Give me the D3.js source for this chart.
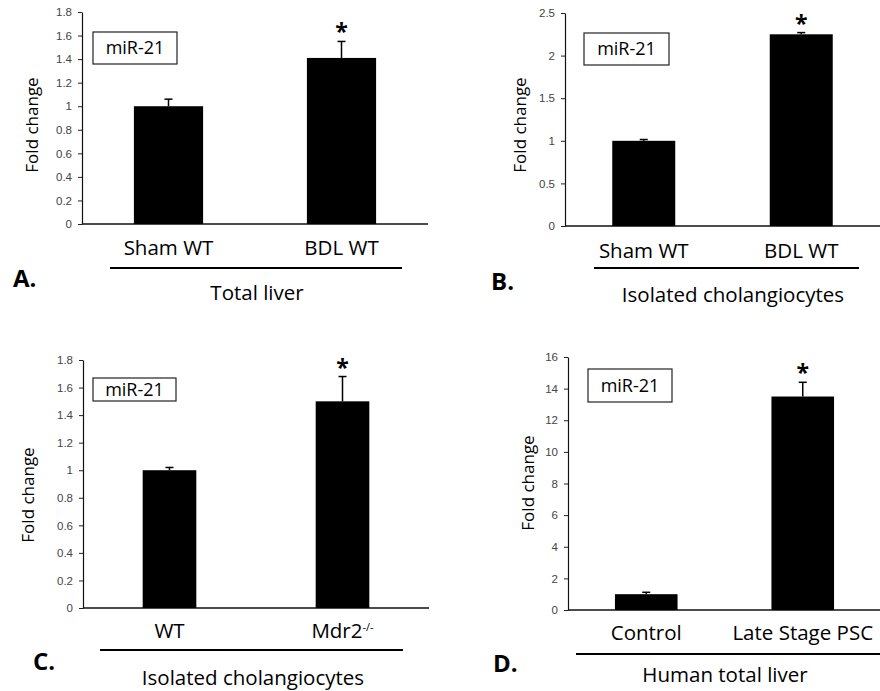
<!DOCTYPE html>
<html>
<head>
<meta charset="utf-8">
<script src="https://cdn.jsdelivr.net/npm/d3@7"></script>
<style>
  body { margin: 0; background: #fff; }
  svg { font-family: "Open Sans", Lato, sans-serif; }
</style>
</head>
<body>
<div id="chart"></div>
<script>
// Données
const catsA = ["Sham WT", "BDL WT"];
const valsA = [1.0, 1.41];
const errsA = [0.06, 0.14];
const ticksA = [0, 0.2, 0.4, 0.6, 0.8, 1, 1.2, 1.4, 1.6, 1.8];

const catsB = ["Sham WT", "BDL WT"];
const valsB = [1.0, 2.25];
const errsB = [0.015, 0.02];
const ticksB = [0, 0.5, 1, 1.5, 2, 2.5];

const catsC = ["WT", "Mdr2"];
const valsC = [1.0, 1.5];
const errsC = [0.02, 0.18];
const ticksC = [0, 0.2, 0.4, 0.6, 0.8, 1, 1.2, 1.4, 1.6, 1.8];

const catsD = ["Control", "Late Stage PSC"];
const valsD = [1.0, 13.5];
const errsD = [0.12, 0.9];
const ticksD = [0, 2, 4, 6, 8, 10, 12, 14, 16];

const groups = ["Total liver", "Isolated cholangiocytes", "Isolated cholangiocytes", "Human total liver"];
const letters = ["A.", "B.", "C.", "D."];
const starred = [1, 1, 1, 1]; // index de la barre avec l'astérisque

const svg = d3.select("#chart").append("svg")
    .attr("width", 880)
    .attr("height", 691);

// Mise en page de chaque panneau
const panels = [
  { cats: catsA, vals: valsA, errs: errsA, ticks: ticksA,
    x0: 82, x1: 428, y0: 224, y1: 12, pin: 0.6, box: [93, 32, 84, 32],
    catY: 255, line: [110, 402, 268], letter: [13, 287], group: [257, 300], ylab: [32, 125] },
  { cats: catsB, vals: valsB, errs: errsB, ticks: ticksB,
    x0: 565, x1: 880, y0: 226, y1: 13, pin: 0.6, box: [584, 33, 85, 32],
    catY: 258, line: [594, 859, 268], letter: [491, 290], group: [733, 302], ylab: [520, 125] },
  { cats: catsC, vals: valsC, errs: errsC, ticks: ticksC,
    x0: 83, x1: 429, y0: 608, y1: 360, pin: 0.69, box: [93, 378, 83, 23],
    catY: 638, line: [100, 403, 650], letter: [33, 670], group: [253, 685], ylab: [28, 495] },
  { cats: catsD, vals: valsD, errs: errsD, ticks: ticksD,
    x0: 568, x1: 881, y0: 610, y1: 357, pin: 0.6, box: [588, 369, 84, 33],
    catY: 640, line: [576, 880, 654], letter: [493, 672], group: [725, 682], ylab: [528, 483] }
];

panels.forEach(function(p, i) {
    const g = svg.append("g");

    const x = d3.scaleBand()
        .domain(p.cats)
        .range([p.x0, p.x1])
        .paddingInner(p.pin)
        .paddingOuter(p.pin / 2);

    const y = d3.scaleLinear()
        .domain([0, d3.max(p.ticks)])
        .range([p.y0, p.y1]);

    // Axe Y
    const yAxis = d3.axisLeft(y)
        .tickValues(p.ticks)
        .tickSize(4)
        .tickSizeOuter(0)
        .tickFormat(d => String(+d.toFixed(2)));

    const ay = g.append("g")
        .attr("transform", "translate(" + p.x0 + ",0)")
        .call(yAxis);
    ay.select(".domain").attr("stroke", "#111").attr("stroke-width", 1.2);
    ay.selectAll(".tick line").attr("stroke", "#222");
    ay.selectAll(".tick text")
        .attr("x", -10)
        .attr("fill", "#444")
        .style("font-size", "11.5px");

    // Axe X (ligne de base)
    g.append("line")
        .attr("x1", p.x0).attr("x2", p.x1)
        .attr("y1", y(0)).attr("y2", y(0))
        .attr("stroke", "#111")
        .attr("stroke-width", 1.5);

    // Barres
    g.selectAll(".bar")
        .data(p.cats)
      .enter().append("rect")
        .attr("class", "bar")
        .attr("x", d => x(d))
        .attr("width", x.bandwidth())
        .attr("y", (d, j) => y(p.vals[j]))
        .attr("height", (d, j) => y(0) - y(p.vals[j]))
        .attr("fill", "#000");

    // Barres d'erreur (vers le haut)
    p.cats.forEach(function(c, j) {
        const cx = x(c) + x.bandwidth() / 2;
        const top = y(p.vals[j] + p.errs[j]);
        g.append("line")
            .attr("x1", cx).attr("x2", cx)
            .attr("y1", y(p.vals[j])).attr("y2", top)
            .attr("stroke", "#000").attr("stroke-width", 1.5);
        g.append("line")
            .attr("x1", cx - 4).attr("x2", cx + 4)
            .attr("y1", top).attr("y2", top)
            .attr("stroke", "#000").attr("stroke-width", 1.5);
    });

    // Astérisque
    const s = starred[i];
    g.append("text")
        .attr("x", x(p.cats[s]) + x.bandwidth() / 2)
        .attr("y", y(p.vals[s] + p.errs[s]) - 1)
        .attr("text-anchor", "middle")
        .style("font-size", "23px")
        .style("font-weight", "bold")
        .text("*");

    // Boîte miR-21
    g.append("rect")
        .attr("x", p.box[0]).attr("y", p.box[1])
        .attr("width", p.box[2]).attr("height", p.box[3])
        .attr("fill", "#fff")
        .attr("stroke", "#222")
        .attr("stroke-width", 1.2);
    g.append("text")
        .attr("x", p.box[0] + p.box[2] / 2)
        .attr("y", p.box[1] + p.box[3] / 2 + 6)
        .attr("text-anchor", "middle")
        .style("font-size", "18px")
        .text("miR-21");

    // Titre axe Y
    g.append("text")
        .attr("transform", "translate(" + p.ylab[0] + "," + p.ylab[1] + ") rotate(-90)")
        .attr("text-anchor", "middle")
        .attr("dy", "0.35em")
        .style("font-size", "17px")
        .text("Fold change");

    // Étiquettes des catégories
    p.cats.forEach(function(c) {
        const t = g.append("text")
            .attr("x", x(c) + x.bandwidth() / 2)
            .attr("y", p.catY)
            .attr("text-anchor", "middle")
            .style("font-size", "20.5px")
            .text(c);
        if (c === "Mdr2") {
            t.append("tspan")
                .attr("baseline-shift", "super")
                .style("font-size", "11px")
                .text("-/-");
        }
    });

    // Trait du groupe
    g.append("line")
        .attr("x1", p.line[0]).attr("x2", p.line[1])
        .attr("y1", p.line[2]).attr("y2", p.line[2])
        .attr("stroke", "#000")
        .attr("stroke-width", 2);

    g.append("text")
        .attr("x", p.group[0])
        .attr("y", p.group[1])
        .attr("text-anchor", "middle")
        .style("font-size", "20.5px")
        .text(groups[i]);

    // Lettre du panneau
    g.append("text")
        .attr("x", p.letter[0])
        .attr("y", p.letter[1])
        .style("font-size", "24px")
        .style("font-weight", "bold")
        .text(letters[i]);
});
</script>
</body>
</html>
